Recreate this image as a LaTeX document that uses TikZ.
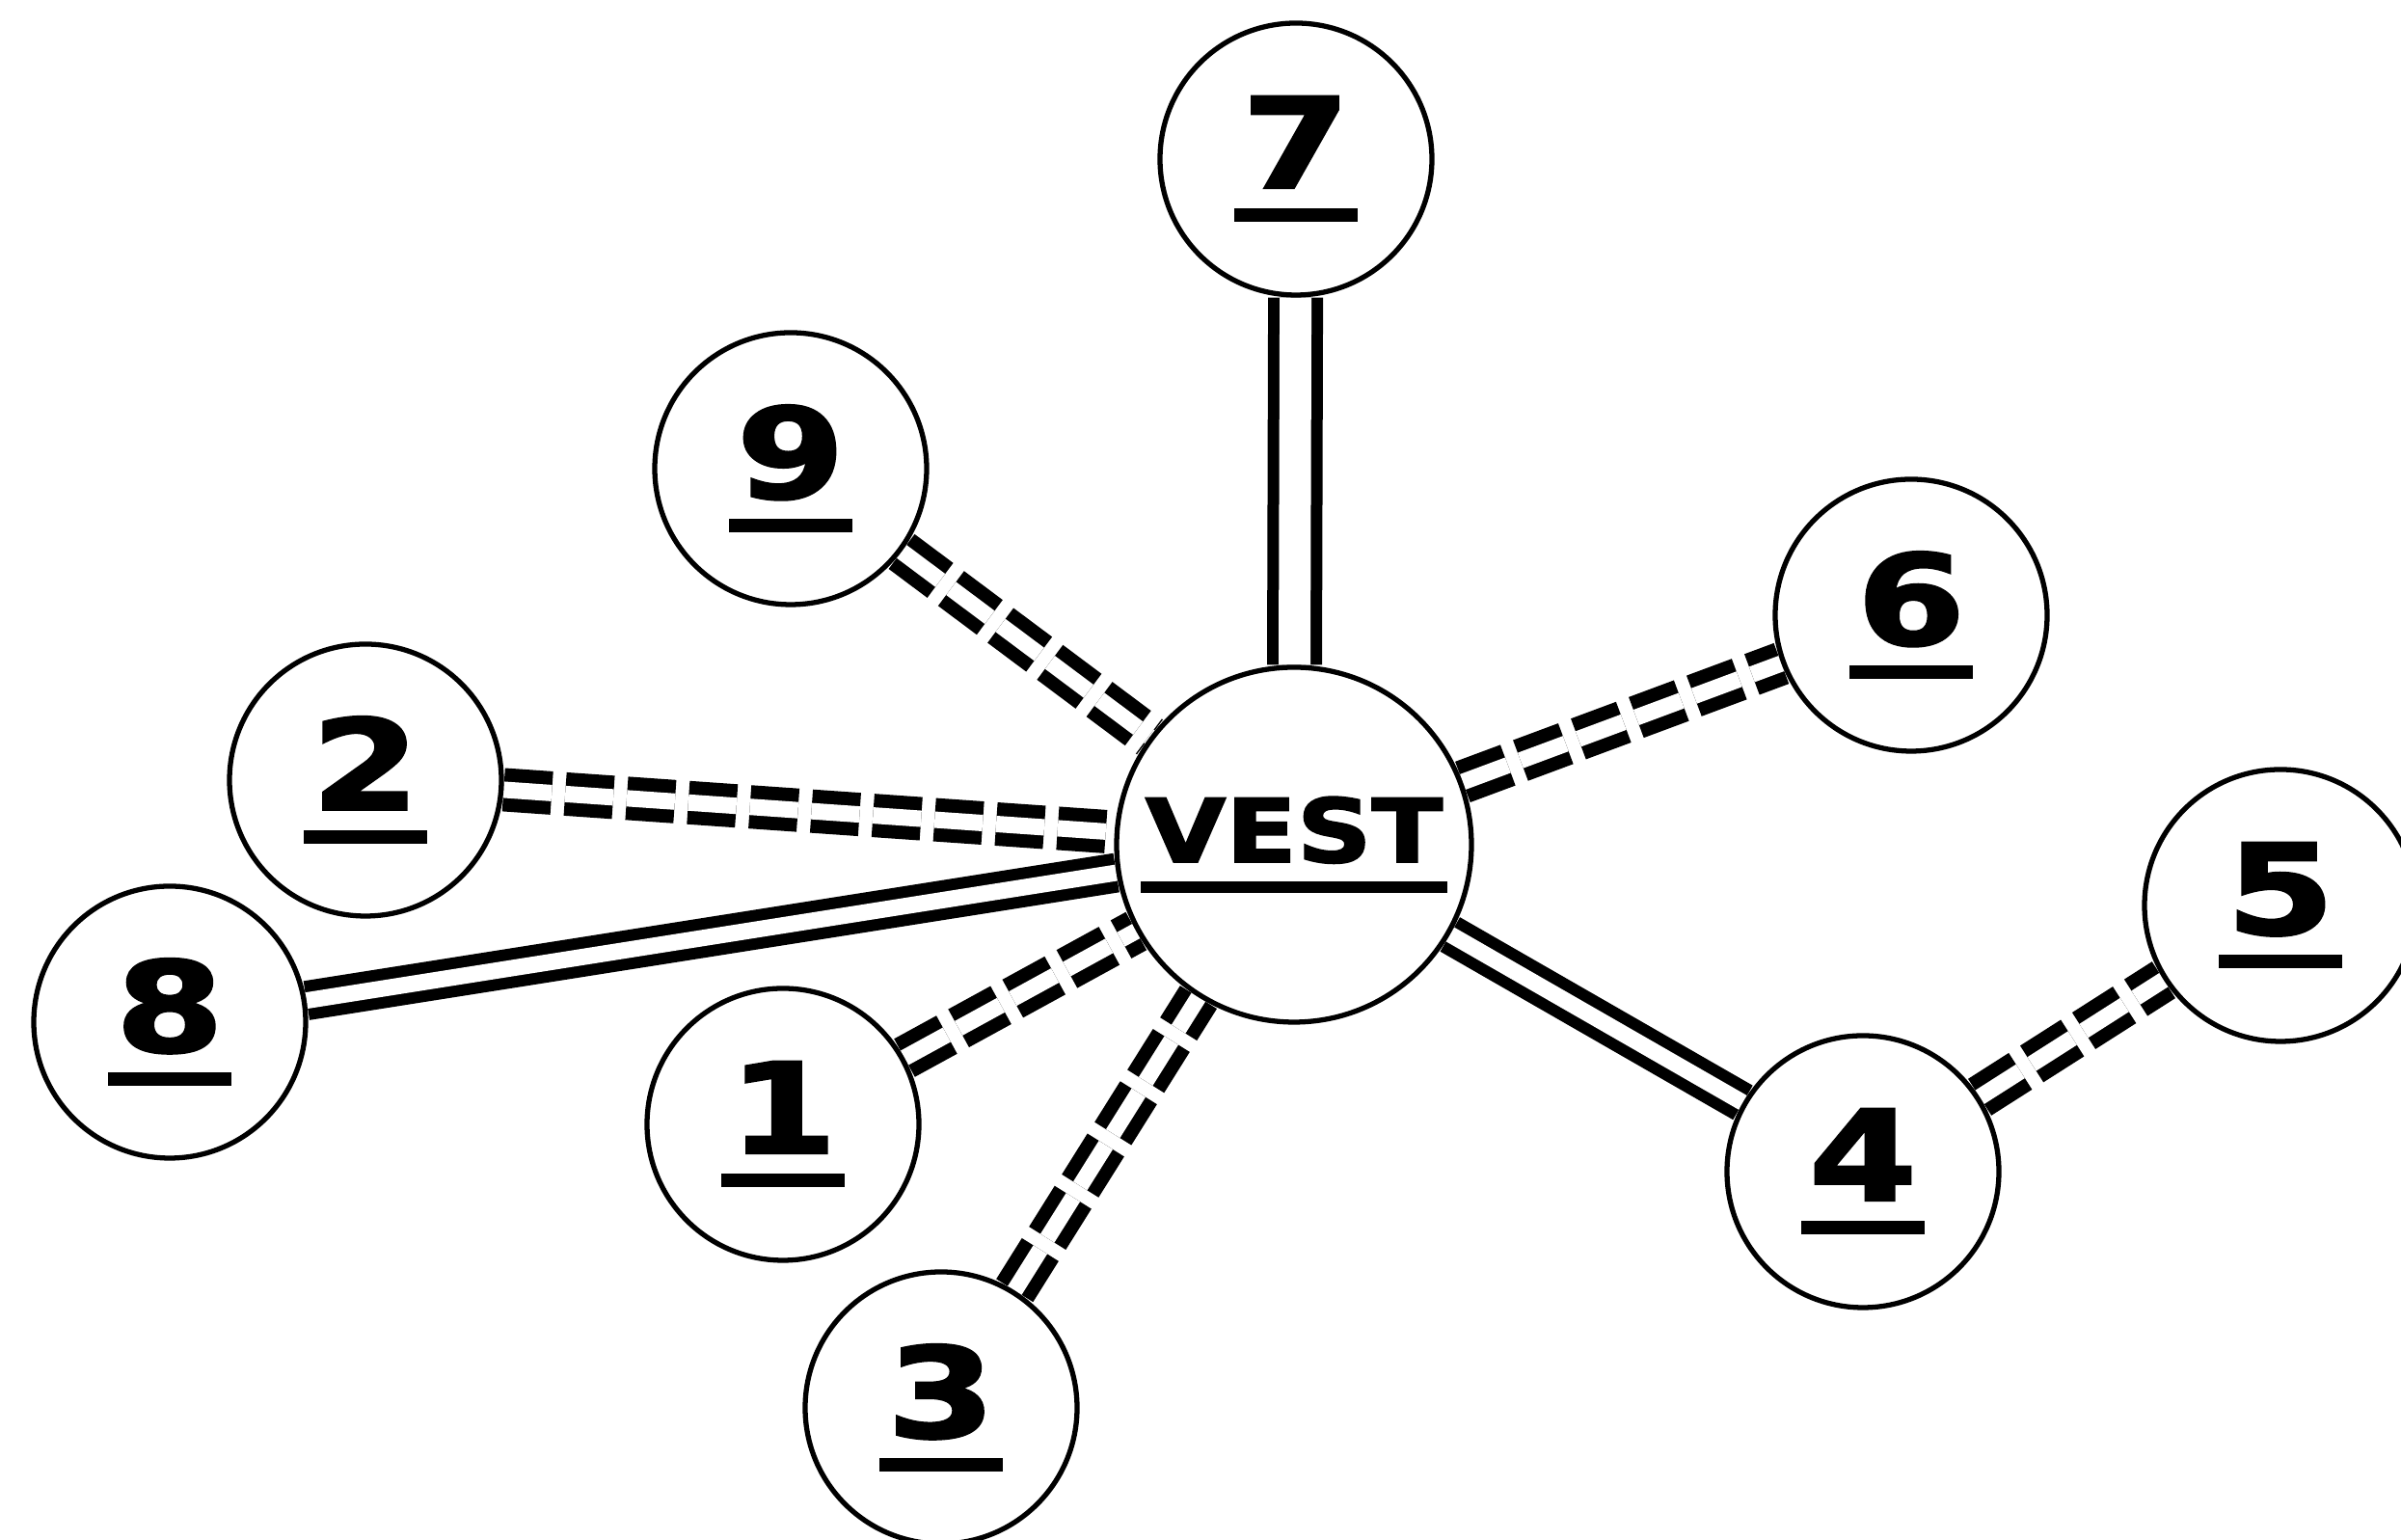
\documentclass[tikz,border=0pt]{standalone}
\usepackage{fontspec}
\setmainfont{DejaVu Sans}[BoldFeatures={FakeBold=2}]
\usetikzlibrary{backgrounds}

% underlined number label
\newcommand{\ulabel}[1]{\scalebox{1.24}[1]{#1}\\[-27pt]\rule{1.28cm}{0.14cm}}

\begin{document}
\begin{tikzpicture}[
    numnode/.style={
        circle,
        draw=black,
        line width=1.5pt,
        minimum size=2.82cm,
        inner sep=0pt,
        align=center,
        font=\bfseries\fontsize{37}{37}\selectfont
    },
    hub/.style={numnode, minimum size=3.68cm, font=\bfseries\fontsize{26}{26}\selectfont},
    link/.style={draw=black, line width=0.12cm, double=white, double distance=0.17cm},
    dashlink/.style={link, line width=0.14cm, dash pattern=on 0.5cm off 0.14cm}
]
    \useasboundingbox (0,0) rectangle (24.90,15.97);

    % --- Centre ---
    \node[hub] (vest) at (13.42,7.21) {\scalebox{1.18}[1]{VEST}\\[-17pt]\rule{3.18cm}{0.12cm}};

    % --- Outer circles ---
    \node[numnode] (n7) at (13.44,14.32) {\ulabel{7}};
    \node[numnode] (n9) at (8.20,11.11) {\ulabel{9}};
    \node[numnode] (n6) at (19.82,9.59) {\ulabel{6}};
    \node[numnode] (n2) at (3.79,7.88) {\ulabel{2}};
    \node[numnode] (n8) at (1.76,5.37) {\ulabel{8}};
    \node[numnode] (n1) at (8.12,4.31) {\ulabel{1}};
    \node[numnode] (n3) at (9.76,1.37) {\ulabel{3}};
    \node[numnode] (n4) at (19.32,3.82) {\ulabel{4}};
    \node[numnode] (n5) at (23.65,6.58) {\ulabel{5}};

    % --- Connections ---
    \begin{scope}[on background layer]
        \draw[link, double distance=0.33cm] (n7) -- (vest);
        \draw[link] (n8) -- (vest);
        \draw[link] (vest) -- (n4);

        \draw[dashlink] (n9) -- (vest);
        \draw[dashlink] (vest) -- (n6);
        \draw[dashlink] (n2) -- (vest);
        \draw[dashlink] (n1) -- (vest);
        \draw[dashlink] (n3) -- (vest);
        \draw[dashlink] (n4) -- (n5);
    \end{scope}
\end{tikzpicture}
\end{document}
